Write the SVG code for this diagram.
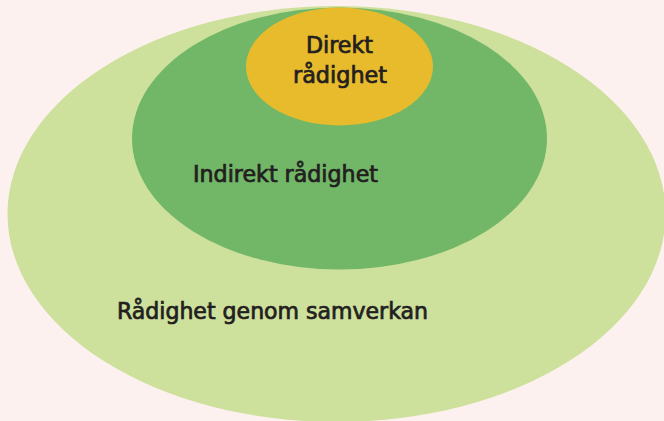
<svg xmlns="http://www.w3.org/2000/svg" width="664" height="421" viewBox="0 0 664 421">
<style>
.t{font-family:"DejaVu Sans Condensed","DejaVu Sans","Liberation Sans",sans-serif;font-size:23px;font-weight:normal;fill:#231f20;stroke:#231f20;stroke-width:0.7}
</style>
<rect width="664" height="421" fill="#fdf1ef"/>
<g id="samverkan">
<ellipse cx="336.5" cy="214" rx="329" ry="208" fill="#cde09c"/>
<text class="t" x="117" y="319" textLength="311" lengthAdjust="spacingAndGlyphs">Rådighet genom samverkan</text>
</g>
<g id="indirekt">
<ellipse cx="339.5" cy="138.5" rx="207.5" ry="131" fill="#71b767"/>
<text class="t" x="193" y="182" textLength="185" lengthAdjust="spacingAndGlyphs">Indirekt rådighet</text>
</g>
<g id="direkt">
<ellipse cx="339.5" cy="66.5" rx="93.5" ry="59" fill="#e8bb2c"/>
<text class="t" x="306" y="53" textLength="67" lengthAdjust="spacingAndGlyphs">Direkt</text>
<text class="t" x="293" y="83" textLength="94" lengthAdjust="spacingAndGlyphs">rådighet</text>
</g>
</svg>
